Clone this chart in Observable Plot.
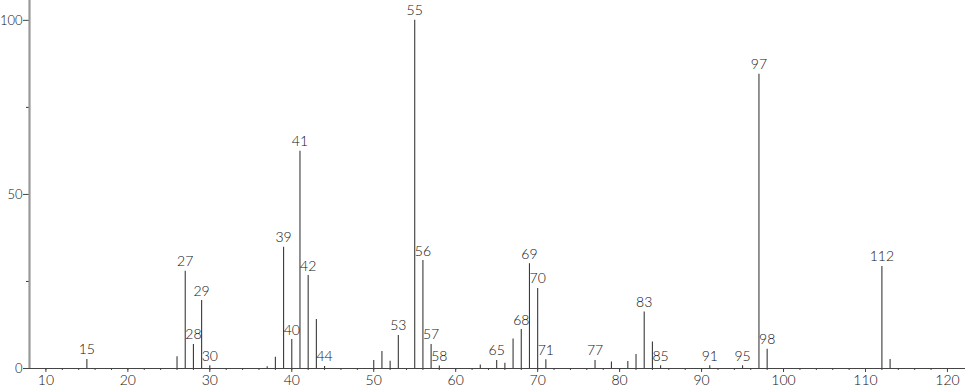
<!DOCTYPE html>
<html>
<head>
<meta charset="utf-8">
<script src="https://cdn.jsdelivr.net/npm/d3@7"></script>
<script src="https://cdn.jsdelivr.net/npm/@observablehq/plot@0.6"></script>
<style>
  html, body { margin: 0; padding: 0; background: #fff; }
  #chart svg { display: block; }
</style>
</head>
<body>
<div id="chart"></div>
<script>
// m/z values and relative intensities
const mz = [15, 26, 27, 28, 29, 30, 37, 38, 39, 40, 41, 42, 43, 44,
            50, 51, 52, 53, 55, 56, 57, 58, 63, 65, 66, 67, 68, 69, 70, 71,
            77, 79, 81, 82, 83, 84, 85, 91, 95, 97, 98, 112, 113];
const intensity = [2.6, 3.4, 27.9, 6.9, 19.5, 0.8, 0.5, 3.2, 34.8, 8.3, 62.4, 26.7, 14.1, 0.6,
                   2.3, 4.9, 2.1, 9.5, 100, 31.0, 6.9, 0.7, 1.0, 2.3, 1.5, 8.5, 11.2, 30.1, 23.0, 2.5,
                   2.3, 1.9, 2.0, 4.0, 16.2, 7.6, 0.8, 0.8, 0.8, 84.5, 5.5, 29.3, 2.6];
const labeled = [15, 27, 28, 29, 30, 39, 40, 41, 42, 44, 53, 55, 56, 57, 58, 65, 68, 69, 70, 71,
                 77, 83, 85, 91, 95, 97, 98, 112];
const xTicks = [10, 20, 30, 40, 50, 60, 70, 80, 90, 100, 110, 120];
const xMinorTicks = d3.range(10, 122, 2);
const yTicks = [0, 50, 100];
const yMinorTicks = [25, 75];

const peaks = mz.map((m, i) => ({mz: m, intensity: intensity[i]}));
const labels = peaks.filter(d => labeled.includes(d.mz));

const font = "Lato, 'Open Sans', sans-serif";

const chart = Plot.plot({
  width: 966,
  height: 389,
  marginLeft: 29,
  marginRight: 1,
  marginTop: 0,
  marginBottom: 21,
  style: {fontFamily: font, fontSize: "14px", fontWeight: 300, color: "#111", background: "#fff"},
  x: {domain: [8, 122.2], label: null},
  y: {domain: [0, 105.7], label: null},
  marks: [
    Plot.axisX({ticks: xMinorTicks, tickSize: 2, text: null, stroke: "#444", label: null}),
    Plot.axisX({ticks: xTicks, tickSize: 4, tickPadding: 3, stroke: "#444", fontSize: 14, fill: "#111", label: null}),
    Plot.axisY({ticks: yMinorTicks, tickSize: 3, text: null, stroke: "#333", label: null}),
    Plot.axisY({ticks: yTicks, tickSize: 6, tickPadding: 1, stroke: "#444", fontSize: 13, fill: "#111", label: null}),
    Plot.ruleY([0], {stroke: "#444", strokeWidth: 1}),
    Plot.ruleX(peaks, {x: "mz", y1: 0, y2: "intensity", stroke: "#3a3a3a", strokeWidth: 1.1}),
    Plot.ruleX([8], {stroke: "#999", strokeWidth: 2.2}),
    Plot.text(labels, {x: "mz", y: "intensity", text: d => String(d.mz), lineAnchor: "bottom", dy: -5,
                       fontSize: 14, fill: "#111"})
  ]
});
document.getElementById("chart").append(chart);
</script>
</body>
</html>
